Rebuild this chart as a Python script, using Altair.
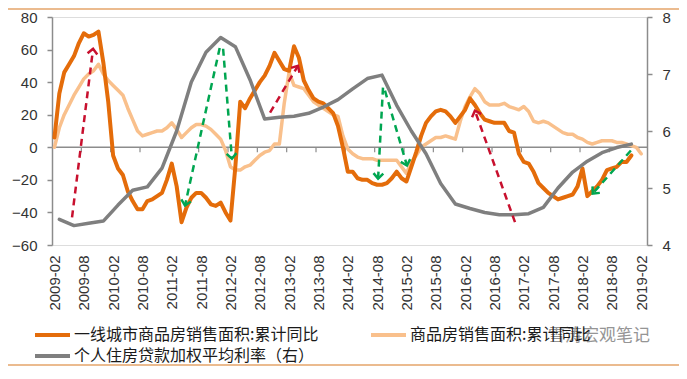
import json
import math
import altair as alt
import pandas as pd

# ---------------- data ----------------
TICK_LABELS = ["2009-02", "2009-08", "2010-02", "2010-08", "2011-02", "2011-08",
               "2012-02", "2012-08", "2013-02", "2013-08", "2014-02", "2014-08",
               "2015-02", "2015-08", "2016-02", "2016-08", "2017-02", "2017-08",
               "2018-02", "2018-08", "2019-02"]

S1 = "一线城市商品房销售面积:累计同比"
S2 = "商品房销售面积:累计同比"
S3 = "个人住房贷款加权平均利率（右）"

# monthly, starting 2009-02 (index 0)
FIRST_TIER = [6, 33, 46, 51, 56, 64, 70, 68, 69, 71, 52, 28,
              -5, -13, -17, -27, -33, -38, -38, -33, -32, -30, -28, -20,
              -10, -24, -46, -37, -31, -28, -28, -31, -35, -36, -34, -40,
              -45, -12, 28, 24, 30, 35, 40, 44, 50, 58, 53, 48,
              47, 62, 55, 41, 35, 30, 28, 27, 24, 21, 13, 0,
              -15, -15, -19, -20, -20, -22, -23, -23, -22, -19, -15, -19,
              -21, -12, -3, 7, 15, 19, 22, 23, 22, 19, 15, 19,
              23, 30, 26, 21, 17, 16, 15, 15, 15, 10, 9, -4,
              -9, -10, -15, -22, -25, -28, -30, -32, -31, -30, -29, -24,
              -13, -30, -27, -24, -20, -14, -13, -12, -9, -9, -5]

NATIONAL = [0, 12, 20, 26, 32, 37, 42, 45, 47, 51, 45, 41,
            38, 35, 32, 24, 17, 10, 7, 8, 9, 10, 10, 12,
            15, 11, 6, 9, 12, 14, 14, 13, 11, 8, 5, -2,
            -12, -14, -14, -12, -11, -8, -5, -3, -2, 2, 2, 27,
            46, 38, 37, 36, 32, 28, 26, 24, 22, 20, 19, 7,
            -1, -4, -6, -7, -7, -7, -8, -8, -8, -8, -8, -12,
            -16, -9, -5, 0, 2, 4, 6, 6, 7, 6, 5, 16,
            25, 31, 36, 33, 28, 26, 26, 26, 27, 25, 24, 23,
            25, 22, 16, 15, 16, 15, 13, 11, 9, 8, 8, 6,
            5, 3, 2, 3, 4, 4, 4, 3, 3, 2, 1, 0,
            -4]

# quarterly (month index of each quarter end: 2009-03 ... 2018-12)
RATE_MONTH = list(range(1, 119, 3))
RATE = [4.45, 4.34, 4.38, 4.42, 4.70, 4.96, 5.02, 5.35, 6.00, 6.86,
        7.38, 7.64, 7.48, 6.90, 6.21, 6.24, 6.26, 6.31, 6.42, 6.55,
        6.74, 6.92, 6.98, 6.45, 6.00, 5.60, 5.08, 4.72, 4.64, 4.57,
        4.53, 4.53, 4.55, 4.66, 5.00, 5.28, 5.47, 5.62, 5.71, 5.77]

# annotation arrows (month index / left-axis value)
ARROW_X1 = [3.6, 33.8, 34.5, 44.1, 67.2, 67.6, 94.2, 117.9]
ARROW_Y1 = [-43, 61, 60.5, 21.3, 36.6, 34.8, -46, -2]
ARROW_X2 = [7.9, 26.7, 36.3, 49.8, 66.2, 72.1, 86.0, 110.1]
ARROW_Y2 = [60.5, -35.8, -7, 50, -19.2, -11.2, 22.5, -28.4]
ARROW_KIND = ["red", "green", "green", "red", "green", "green", "red", "green"]

WATERMARK = "雪涛宏观笔记"

# ---------------- styling ----------------
W, H = 595, 228
X_DOMAIN = [-0.5, 121.2]
C1, C2, C3 = "#E46C0A", "#F9C08C", "#7F7F7F"
RED, GREEN = "#C8102E", "#00A651"
AXIS_GRAY = "#8C8C8C"
LABEL_FONT = "Liberation Sans"
CJK_FONT = "Noto Sans CJK SC"

x_scale = alt.Scale(domain=X_DOMAIN, nice=False, zero=False)
y_left = alt.Scale(domain=[-60, 80], nice=False, zero=False)
y_right = alt.Scale(domain=[4, 8], nice=False, zero=False)

label_expr = json.dumps(TICK_LABELS) + "[round(datum.value / 6)]"
x_axis = alt.Axis(values=list(range(0, 121, 6)), labelExpr=label_expr,
                  labelAngle=270, labelFont=LABEL_FONT, labelFontSize=15,
                  labelColor="#333333", labelPadding=10, ticks=False, tickSize=0,
                  domain=False, grid=False, title=None, labelOverlap=False,
                  labelFlush=False)

left_axis = alt.Axis(values=list(range(-60, 81, 20)), labelFont=LABEL_FONT,
                     labelFontSize=15, labelColor="#333333", tickSize=5,
                     tickColor=AXIS_GRAY, tickWidth=1.5, domainColor=AXIS_GRAY,
                     domainWidth=1.5, labelPadding=10, grid=False, title=None,
                     orient="left")
right_axis = alt.Axis(values=[4, 5, 6, 7, 8], format="d", labelFont=LABEL_FONT,
                      labelFontSize=15, labelColor="#333333", tickSize=5,
                      tickColor=AXIS_GRAY, tickWidth=1.5, domainColor=AXIS_GRAY,
                      domainWidth=1.5, labelPadding=10, grid=False, title=None,
                      orient="right")

# legend grid fills column by column: column 1 = S1, S3 ; column 2 = S2
legend = alt.Legend(orient="none", legendX=-19, legendY=310, columns=2,
                    symbolType="stroke", symbolSize=1225, symbolStrokeWidth=4,
                    labelFont=CJK_FONT, labelFontSize=16, labelColor="#1a1a1a",
                    labelLimit=400, columnPadding=50, rowPadding=5,
                    clipHeight=16, padding=0, labelOffset=2, title=None)
color = alt.Color("series:N",
                  scale=alt.Scale(domain=[S1, S3, S2], range=[C1, C3, C2]),
                  legend=legend)

# ---------------- frames ----------------
df1 = pd.DataFrame({"m": list(range(len(FIRST_TIER))), "v": FIRST_TIER, "series": S1})
df2 = pd.DataFrame({"m": list(range(len(NATIONAL))), "v": NATIONAL, "series": S2})
df3 = pd.DataFrame({"m": RATE_MONTH, "v": RATE, "series": S3})

TICK_POS = [6 * k - 0.5 for k in range(1, 21)]
df_ticks = pd.DataFrame({"m": TICK_POS, "y0": 0, "y1": -3})

KX = W / (X_DOMAIN[1] - X_DOMAIN[0])
KY = H / 140.0
angles = []
for x1, y1, x2, y2 in zip(ARROW_X1, ARROW_Y1, ARROW_X2, ARROW_Y2):
    dx = (x2 - x1) * KX
    dy = -(y2 - y1) * KY
    angles.append(math.degrees(math.atan2(dx, -dy)) % 360)
df_arrows = pd.DataFrame({"x1": ARROW_X1, "y1": ARROW_Y1, "x2": ARROW_X2,
                          "y2": ARROW_Y2, "kind": ARROW_KIND, "ang": angles})

# ---------------- layers ----------------
zero_line = alt.Chart(pd.DataFrame({"v": [0]})).mark_rule(
    color=AXIS_GRAY, strokeWidth=1.5).encode(
    y=alt.Y("v:Q", scale=y_left, axis=left_axis))

zero_ticks = alt.Chart(df_ticks).mark_rule(color=AXIS_GRAY, strokeWidth=1.2).encode(
    x=alt.X("m:Q", scale=x_scale, axis=x_axis),
    y=alt.Y("y0:Q", scale=y_left, axis=left_axis),
    y2="y1:Q")

line2 = alt.Chart(df2).mark_line(strokeWidth=3.5, strokeJoin="round", strokeCap="round").encode(
    x=alt.X("m:Q", scale=x_scale, axis=x_axis),
    y=alt.Y("v:Q", scale=y_left, axis=left_axis),
    color=color)

line1 = alt.Chart(df1).mark_line(strokeWidth=4, strokeJoin="round", strokeCap="round").encode(
    x=alt.X("m:Q", scale=x_scale, axis=x_axis),
    y=alt.Y("v:Q", scale=y_left, axis=left_axis),
    color=color)

left = alt.layer(zero_line, zero_ticks, line2, line1)

gray = alt.Chart(df3).mark_line(strokeWidth=3.5, strokeJoin="round", strokeCap="round").encode(
    x=alt.X("m:Q", scale=x_scale, axis=x_axis),
    y=alt.Y("v:Q", scale=y_right, axis=right_axis),
    color=color)

CHEVRON = "M-0.75,0.8L0,0L0.75,0.8"
arrow_layers = []
for kind, col in (("red", RED), ("green", GREEN)):
    sub = df_arrows[df_arrows["kind"] == kind]
    arrow_layers.append(
        alt.Chart(sub).mark_rule(color=col, strokeWidth=2.5, strokeDash=[7, 5]).encode(
            x=alt.X("x1:Q", scale=x_scale, axis=x_axis),
            y=alt.Y("y1:Q", scale=y_left, axis=None),
            x2="x2:Q", y2="y2:Q"))
    arrow_layers.append(
        alt.Chart(sub).mark_point(shape=CHEVRON, filled=False, size=170,
                                  strokeWidth=2.5, color=col, opacity=1).encode(
            x=alt.X("x2:Q", scale=x_scale, axis=x_axis),
            y=alt.Y("y2:Q", scale=y_left, axis=None),
            angle=alt.Angle("ang:Q", scale=None)))

base = alt.Chart(pd.DataFrame({"a": [0]}))
wm_text = base.mark_text(align="left", baseline="middle", font=CJK_FONT,
                         fontSize=17, color="#8a8a8a", opacity=0.9).encode(
    x=alt.value(496), y=alt.value(319), text=alt.value(WATERMARK))
top_line = base.mark_rule(color="#E4A56A", strokeWidth=1.5).encode(
    x=alt.value(-47), x2=alt.value(630), y=alt.value(-8))
bottom_line = base.mark_rule(color="#E4A56A", strokeWidth=1.5).encode(
    x=alt.value(-47), x2=alt.value(630), y=alt.value(348))

overlay = alt.layer(*arrow_layers, wm_text, top_line, bottom_line)

chart = alt.layer(left, gray, overlay).resolve_scale(y="independent").properties(
    width=W, height=H,
    autosize=alt.AutoSizeParams(type="none"),
    padding={"left": 44, "top": 9, "right": 32, "bottom": 121},
).configure_view(stroke=None).configure(background="white")

chart.save("out.html", embed_options={"renderer": "svg", "actions": False})
